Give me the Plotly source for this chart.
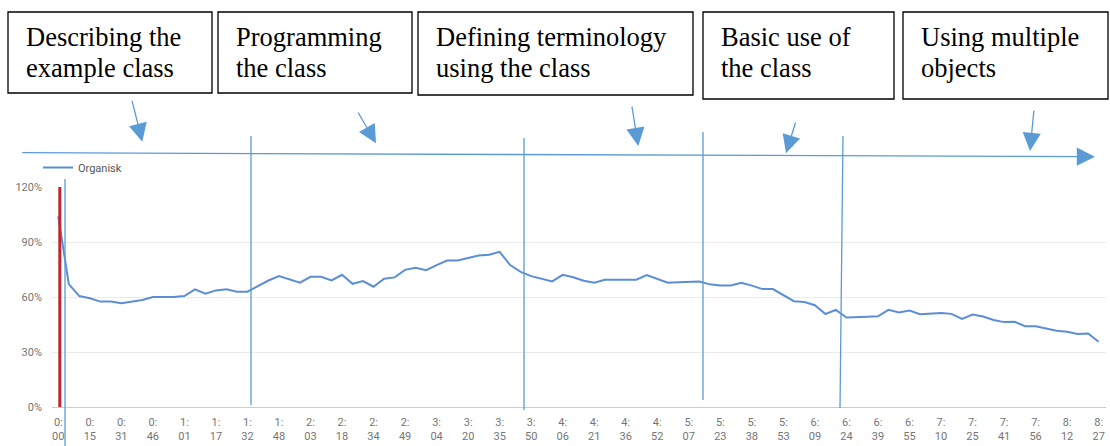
import plotly.graph_objects as go

W, H = 1110, 446

# share of "Organisk" retention (%), one point every ~5 s of the video
organisk = [104, 67, 60.5, 59.3, 57.5, 57.5, 56.6, 57.5, 58.4, 60,
            60, 60, 60.5, 64.2, 61.8, 63.6, 64.2, 62.9, 62.9, 66,
            69, 71.4, 69.6, 67.8, 71, 71, 69, 72.1, 67.2, 68.7,
            65.6, 70, 70.7, 74.8, 75.9, 74.6, 77.4, 79.9, 79.9, 81.3,
            82.6, 83.1, 84.6, 77.4, 73.7, 71.4, 70, 68.5, 72.1, 70.8,
            68.9, 67.8, 69.4, 69.4, 69.4, 69.4, 71.9, 69.8, 67.8, 68.1,
            68.1, 68.5, 66.9, 66.3, 66.3, 67.8, 66.2, 64.3, 64.3, 60.9,
            57.7, 57.3, 55.5, 50.7, 53, 48.8, 49.2, 49.2, 49.5, 53,
            51.5, 52.6, 50.6, 51, 51.3, 50.8, 48.1, 50.4, 49.4, 47.5,
            46.3, 46.5, 44.1, 44.1, 42.8, 41.6, 41, 39.8, 40.1, 35.6]

time_labels = ["0:00", "0:15", "0:31", "0:46", "1:01", "1:17", "1:32", "1:48",
               "2:03", "2:18", "2:34", "2:49", "3:04", "3:20", "3:35", "3:50",
               "4:06", "4:21", "4:36", "4:52", "5:07", "5:23", "5:38", "5:53",
               "6:09", "6:24", "6:39", "6:55", "7:10", "7:25", "7:41", "7:56",
               "8:12", "8:27"]

y_ticks = [0, 30, 60, 90, 120]

phases = [["Describing the", "example class"],
          ["Programming", "the class"],
          ["Defining terminology", "using the class"],
          ["Basic use of", "the class"],
          ["Using multiple", "objects"]]

# hand drawn overlay, in page pixels
boxes = [(8, 12, 212, 93), (218, 12, 412, 93), (418, 12, 693, 95),
         (703, 12, 894, 99), (903, 12, 1108, 99)]
arrows = [((131.7, 99.3), (142.3, 141.7)), ((357.3, 111), (376, 143.3)),
          ((631.7, 105), (638.3, 146)), ((796, 121), (786, 153.3)),
          ((1034, 109), (1030, 151)), ((20.7, 152.7), (1095, 156.7))]
splits = [((65, 179), (65, 446)), ((251, 136), (251, 405)),
          ((524, 138), (524, 410)), ((703, 132), (703, 400)),
          ((843, 136), (840, 408))]

BLUE = "#5b9bd5"
GREY = "#757575"

step = len(organisk) // (len(time_labels) - 1)
tickvals = list(range(0, len(organisk), step))
ticktext = [t.replace(":", ":<br>") for t in time_labels]

fig = go.Figure()
fig.add_trace(go.Scatter(
    x=list(range(len(organisk))), y=organisk, mode="lines", name="Organisk",
    line=dict(color="#5b8ed6", width=2),
))

shapes = []
for x0, y0, x1, y1 in boxes:
    shapes.append(dict(type="rect", xref="x2", yref="y2", x0=x0, y0=y0, x1=x1, y1=y1,
                       line=dict(color="black", width=1.3), fillcolor="white"))
for (x0, y0), (x1, y1) in splits:
    shapes.append(dict(type="line", xref="x2", yref="y2", x0=x0, y0=y0, x1=x1, y1=y1,
                       line=dict(color=BLUE, width=1.3)))
# red playhead bar
shapes.append(dict(type="rect", xref="x2", yref="y2", x0=58.3, x1=61.3, y0=187, y1=407,
                   line=dict(width=0), fillcolor="#c0272d"))

annotations = []
for (bx0, by0, bx1, by1), lines in zip(boxes, phases):
    for i, txt in enumerate(lines):
        annotations.append(dict(
            xref="x2", yref="y2", x=bx0 + 16, y=37 + i * 31, text=txt,
            showarrow=False, xanchor="left", yanchor="middle",
            font=dict(family="Liberation Serif", size=26.5, color="black"),
        ))
for (tx, ty), (hx, hy) in arrows:
    annotations.append(dict(
        xref="x2", yref="y2", axref="x2", ayref="y2", x=hx, y=hy, ax=tx, ay=ty,
        text="", showarrow=True, arrowhead=2, arrowsize=2.8, arrowwidth=1.3,
        arrowcolor=BLUE, standoff=0,
    ))

fig.update_layout(
    width=W, height=H,
    margin=dict(l=0, r=0, t=0, b=0),
    paper_bgcolor="white", plot_bgcolor="rgba(0,0,0,0)",
    font=dict(family="Roboto", size=11, color=GREY),
    showlegend=True,
    legend=dict(x=38 / W, y=1 - 153 / H, xanchor="left", yanchor="top",
                font=dict(family="Roboto", size=11, color="#555555"),
                bgcolor="rgba(0,0,0,0)"),
    xaxis=dict(domain=[52 / W, 1106 / W], range=[-0.6, 99.7],
               tickvals=tickvals, ticktext=ticktext, showgrid=False,
               zeroline=False, showline=False, ticks="", automargin=False,
               ticklabelstandoff=7, tickfont=dict(size=11, color=GREY)),
    yaxis=dict(domain=[1 - 407 / H, 1 - 187 / H], range=[0, 120],
               tickvals=y_ticks, ticktext=[f"{v}%" for v in y_ticks],
               gridcolor="#ebebeb",
               zeroline=True, zerolinecolor="#cccccc", zerolinewidth=1,
               showline=False, ticks="", automargin=False,
               ticklabelstandoff=9, tickfont=dict(size=11, color=GREY)),
    xaxis2=dict(domain=[0, 1], range=[0, W], visible=False, anchor="y2",
                fixedrange=True),
    yaxis2=dict(domain=[0, 1], range=[H, 0], visible=False, anchor="x2",
                fixedrange=True),
    shapes=shapes,
    annotations=annotations,
)

fig.write_html("out.html", config=dict(displayModeBar=False),
               post_script="document.body.style.margin='0';")
